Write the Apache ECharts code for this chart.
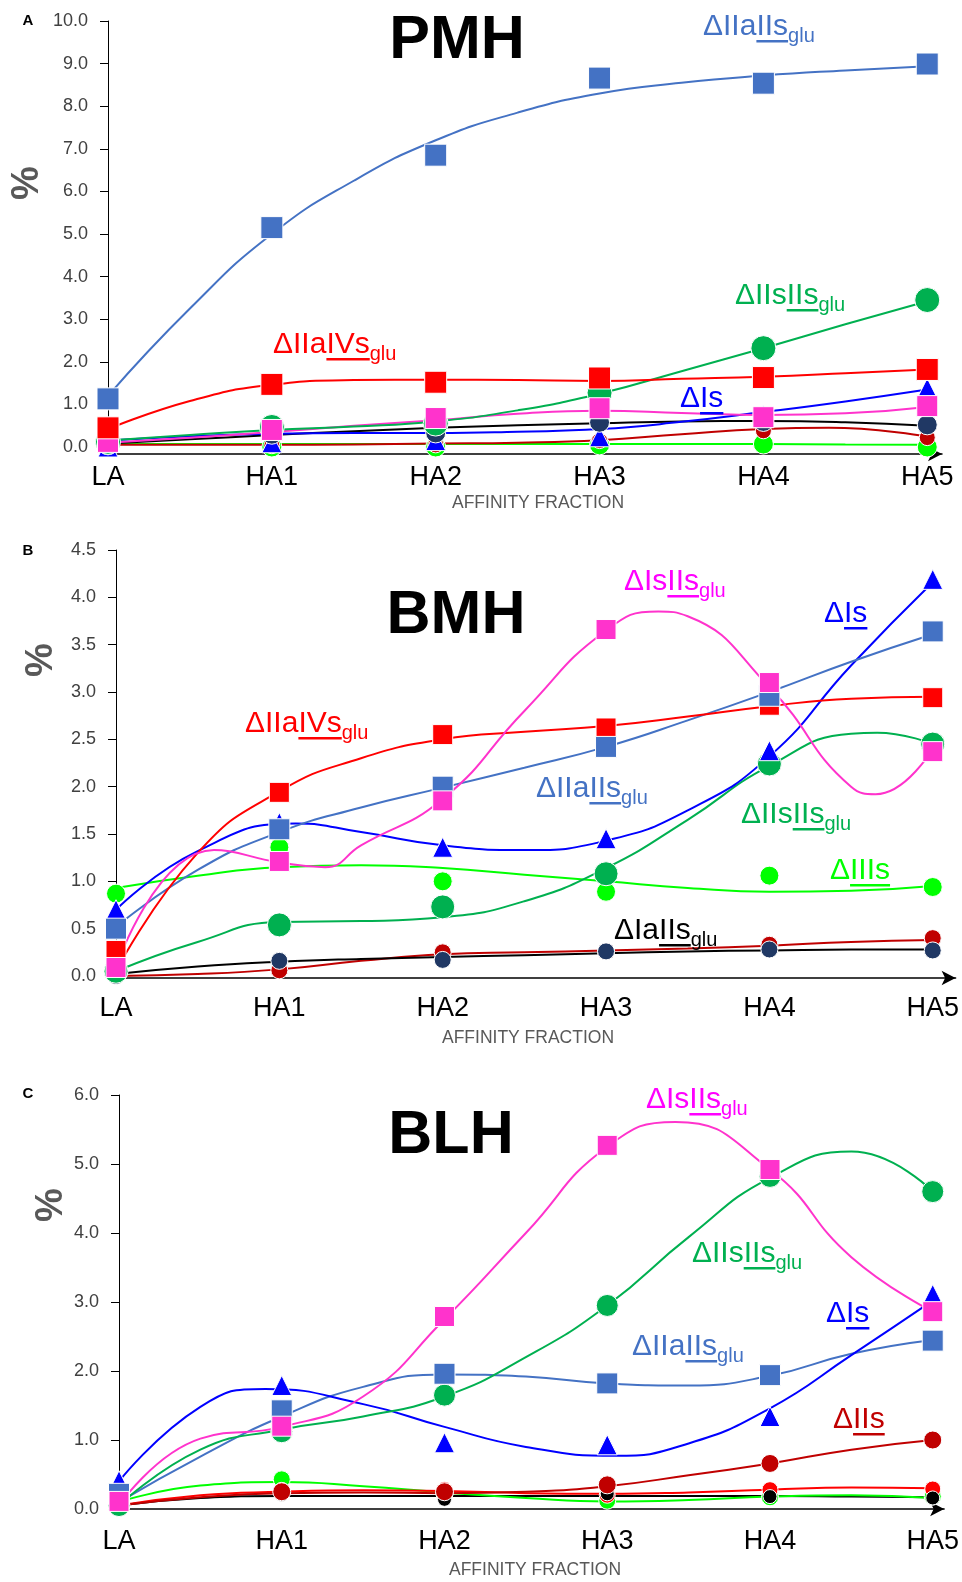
<!DOCTYPE html>
<html>
<head>
<meta charset="utf-8">
<script src="https://cdn.jsdelivr.net/npm/echarts@6/dist/echarts.min.js"></script>
<style>html,body{margin:0;padding:0;background:#fff}#c{width:962px;height:1582px}</style>
</head>
<body>
<div id="c"></div>
<script>
// ---------- DATA ----------
const categories = ['LA', 'HA1', 'HA2', 'HA3', 'HA4', 'HA5'];
const fitSteps = [0, 0.5, 1, 1.5, 2, 2.5, 3, 3.5, 4, 4.5, 5]; // positions where the fitted curves were read
const yTicksA = [0, 10, 1];
const yTicksB = [0, 4.5, 0.5];
const yTicksC = [0, 6, 1];

const A_IIaIIs_pts = [1.13, 5.15, 6.85, 8.66, 8.54, 8.99];
const A_IIaIIs_fit = [1.2, 3.25, 5.0, 6.25, 7.2, 7.85, 8.3, 8.55, 8.72, 8.84, 8.94];
const A_IIaIVs_pts = [0.45, 1.47, 1.52, 1.62, 1.63, 1.82];
const A_IIaIVs_fit = [0.42, 1.08, 1.46, 1.57, 1.58, 1.57, 1.55, 1.6, 1.65, 1.73, 1.82];
const A_IIsIIs_pts = [0.12, 0.47, 0.55, 1.27, 2.32, 3.45];
const A_IIsIIs_fit = [0.15, 0.28, 0.4, 0.48, 0.6, 0.86, 1.25, 1.78, 2.32, 2.88, 3.42];
const A_Is_pts = [0.0, 0.1, 0.15, 0.24, 0.75, 1.38];
const A_Is_fit = [0.15, 0.25, 0.31, 0.33, 0.33, 0.36, 0.42, 0.59, 0.82, 1.07, 1.35];
const A_IsIIs_pts = [0.12, 0.4, 0.68, 0.91, 0.7, 0.96];
const A_IsIIs_fit = [0.1, 0.22, 0.35, 0.5, 0.63, 0.78, 0.85, 0.8, 0.75, 0.79, 0.94];
const A_IaIIs_pts = [0.05, 0.3, 0.33, 0.58, 0.6, 0.52];
const A_IaIIs_fit = [0.08, 0.18, 0.28, 0.37, 0.45, 0.51, 0.56, 0.6, 0.61, 0.58, 0.5];
const A_IIs_pts = [0.03, 0.03, 0.05, 0.15, 0.38, 0.22];
const A_IIs_fit = [0.05, 0.05, 0.05, 0.06, 0.08, 0.1, 0.16, 0.3, 0.42, 0.44, 0.24];
const A_IIs_ext = [[4.4, 0.45]];
const A_IIIs_pts = [0.05, 0.0, 0.0, 0.05, 0.07, 0.0];
const A_IIIs_fit = [0.07, 0.07, 0.07, 0.07, 0.07, 0.07, 0.07, 0.07, 0.07, 0.06, 0.05];

// Panel B : BMH
const B_IIaIIs_pts = [0.5, 1.55, 2.0, 2.42, 2.96, 3.64];
const B_IIaIIs_fit = [0.52, 1.12, 1.52, 1.78, 1.99, 2.2, 2.42, 2.7, 3.0, 3.32, 3.61];
const B_IIaIVs_pts = [0.27, 1.94, 2.55, 2.62, 2.86, 2.94];
const B_IIaIVs_fit = [0.05, 1.3, 1.95, 2.3, 2.5, 2.58, 2.64, 2.74, 2.85, 2.93, 2.95];
const B_IsIIs_pts = [0.09, 1.21, 1.85, 3.66, 3.1, 2.37];
const B_IsIIs_fit = [0.1, 1.3, 1.2, 1.38, 1.87, 2.8, 3.65, 3.8, 3.05, 2.0, 2.4];
const B_IsIIs_ext = [[0.6, 1.33], [1.28, 1.15], [3.32, 3.85], [4.65, 1.92]];
const B_Is_pts = [0.7, 1.62, 1.36, 1.45, 2.38, 4.19];
const B_Is_fit = [0.7, 1.32, 1.6, 1.52, 1.38, 1.33, 1.43, 1.75, 2.32, 3.28, 4.16];
const B_Is_ext = [[1.1, 1.61]];
const B_IIsIIs_pts = [0.05, 0.54, 0.73, 1.08, 2.24, 2.45];
const B_IIsIIs_fit = [0.05, 0.36, 0.57, 0.58, 0.62, 0.79, 1.14, 1.65, 2.22, 2.56, 2.45];
const B_IIsIIs_ext = [[4.66, 2.57]];
const B_IIIs_pts = [0.87, 1.36, 1.0, 0.89, 1.06, 0.94];
const B_IIIs_fit = [0.93, 1.06, 1.15, 1.17, 1.14, 1.07, 1.0, 0.93, 0.89, 0.9, 0.95];
const B_IaIIs_pts = [0.0, 0.16, 0.17, 0.26, 0.28, 0.27];
const B_IaIIs_fit = [0.02, 0.1, 0.15, 0.18, 0.2, 0.22, 0.24, 0.26, 0.27, 0.28, 0.28];
const B_IIs_pts = [0.0, 0.06, 0.25, 0.26, 0.33, 0.4];
const B_IIs_fit = [0.0, 0.02, 0.07, 0.16, 0.23, 0.25, 0.27, 0.29, 0.32, 0.36, 0.38];

// Panel C : BLH
const C_IsIIs_pts = [0.11, 1.2, 2.79, 5.27, 4.92, 2.86];
const C_IsIIs_fit = [0.05, 1.02, 1.19, 1.63, 2.75, 4.0, 5.25, 5.58, 4.92, 3.65, 2.86];
const C_IsIIs_ext = [[3.42, 5.61]];
const C_IIsIIs_pts = [0.05, 1.12, 1.65, 2.95, 4.82, 4.6];
const C_IIsIIs_fit = [0.05, 0.86, 1.15, 1.34, 1.63, 2.2, 2.95, 3.94, 4.8, 5.18, 4.6];
const C_Is_pts = [0.41, 1.79, 0.96, 0.93, 1.34, 3.11];
const C_Is_fit = [0.4, 1.48, 1.73, 1.52, 1.19, 0.9, 0.78, 0.95, 1.46, 2.23, 3.02];
const C_Is_ext = [[0.9, 1.74], [3.05, 0.77]];
const C_IIaIIs_pts = [0.22, 1.43, 1.96, 1.82, 1.94, 2.44];
const C_IIaIIs_fit = [0.1, 0.76, 1.34, 1.77, 1.95, 1.92, 1.82, 1.79, 1.93, 2.25, 2.45];
const C_IIs_pts = [0.05, 0.25, 0.25, 0.35, 0.66, 1.0];
const C_IIs_fit = [0.05, 0.17, 0.23, 0.24, 0.23, 0.25, 0.33, 0.49, 0.66, 0.86, 1.0];
const C_IIaIVs_pts = [0.02, 0.27, 0.28, 0.2, 0.28, 0.29];
const C_IIaIVs_fit = [0.05, 0.2, 0.25, 0.27, 0.26, 0.23, 0.22, 0.24, 0.28, 0.31, 0.3];
const C_IIIs_pts = [0.05, 0.43, 0.22, 0.12, 0.17, 0.18];
const C_IIIs_fit = [0.1, 0.34, 0.39, 0.33, 0.24, 0.16, 0.11, 0.13, 0.18, 0.2, 0.16];
const C_IaIIs_pts = [0.05, 0.21, 0.14, 0.22, 0.18, 0.16];
const C_IaIIs_fit = [0.05, 0.16, 0.19, 0.19, 0.19, 0.19, 0.19, 0.19, 0.19, 0.18, 0.17];

// ---------- STYLE ----------
const FONT = '"Liberation Sans", Arial, sans-serif';
const COL = {
  IIaIIs: '#4472C4', IIaIVs: '#FF0000', IsIIs: '#FF33CC', Is: '#0000FF',
  IIsIIs: '#00B050', IIIs: '#00FF00', IaIIs: '#000000', IIs: '#C00000', navy: '#203864'
};

const grids = [
  { left: 108, top: 21, width: 834, height: 426 },
  { left: 116, top: 550, width: 843, height: 426 },
  { left: 119, top: 1095, width: 842, height: 414 }
];
const xMax = [5.09, 5.14, 5.07];
const xOffset = [7, 2, 0];
const xMargin = [10, 17, 19];
const yT = [yTicksA, yTicksB, yTicksC];

function fit(g, arr, color, ext) {
  let data = arr.map((v, i) => [fitSteps[i], v]);
  if (ext) {
    ext.forEach(e => {
      data = data.filter(d => Math.abs(d[0] - e[0]) > 0.12);
      data.push(e);
    });
    data.sort((a, b) => a[0] - b[0]);
  }
  return { type: 'line', xAxisIndex: g, yAxisIndex: g, data: data,
    smooth: 0.5, showSymbol: false, symbol: 'none', clip: false, z: 2,
    lineStyle: { color: color, width: 2 } };
}
function pts(g, arr, sym, size, color, z) {
  return { type: 'scatter', xAxisIndex: g, yAxisIndex: g, data: arr.map((v, i) => [i, v]),
    symbol: sym, symbolSize: size, clip: false, z: z || 3,
    itemStyle: { color: color, borderColor: '#ffffff', borderWidth: 1, opacity: 1 } };
}

const series = [
  // A
  fit(0, A_IIIs_fit, COL.IIIs), fit(0, A_IIs_fit, COL.IIs, A_IIs_ext), fit(0, A_IaIIs_fit, COL.IaIIs),
  fit(0, A_Is_fit, COL.Is), fit(0, A_IsIIs_fit, COL.IsIIs), fit(0, A_IIsIIs_fit, COL.IIsIIs),
  fit(0, A_IIaIVs_fit, COL.IIaIVs), fit(0, A_IIaIIs_fit, COL.IIaIIs),
  pts(0, A_IIIs_pts, 'circle', 20, COL.IIIs, 3), pts(0, A_IIs_pts, 'circle', 16, COL.IIs, 3),
  pts(0, A_Is_pts, 'triangle', 20, COL.Is, 4), pts(0, A_IaIIs_pts, 'circle', 20, COL.navy, 5),
  pts(0, A_IIsIIs_pts, 'circle', 25, COL.IIsIIs, 5), pts(0, A_IsIIs_pts, 'rect', 21, COL.IsIIs, 6),
  pts(0, A_IIaIVs_pts, 'rect', 22, COL.IIaIVs, 6), pts(0, A_IIaIIs_pts, 'rect', 22, COL.IIaIIs, 6),
  // B
  fit(1, B_IIs_fit, COL.IIs), fit(1, B_IaIIs_fit, COL.IaIIs), fit(1, B_IIIs_fit, COL.IIIs),
  fit(1, B_IIsIIs_fit, COL.IIsIIs, B_IIsIIs_ext), fit(1, B_Is_fit, COL.Is, B_Is_ext), fit(1, B_IIaIIs_fit, COL.IIaIIs),
  fit(1, B_IIaIVs_fit, COL.IIaIVs), fit(1, B_IsIIs_fit, COL.IsIIs, B_IsIIs_ext),
  pts(1, B_IIs_pts, 'circle', 17, COL.IIs, 3), pts(1, B_IaIIs_pts, 'circle', 17, COL.navy, 3),
  pts(1, B_IIIs_pts, 'circle', 19, COL.IIIs, 3), pts(1, B_IIsIIs_pts, 'circle', 24, COL.IIsIIs, 4),
  pts(1, B_Is_pts, 'triangle', 20, COL.Is, 4), pts(1, B_IIaIVs_pts, 'rect', 20, COL.IIaIVs, 5),
  pts(1, B_IIaIIs_pts, 'rect', 21, COL.IIaIIs, 6), pts(1, B_IsIIs_pts, 'rect', 20, COL.IsIIs, 6),
  // C
  fit(2, C_IaIIs_fit, COL.IaIIs), fit(2, C_IIIs_fit, COL.IIIs), fit(2, C_IIaIVs_fit, COL.IIaIVs),
  fit(2, C_IIs_fit, COL.IIs), fit(2, C_IIaIIs_fit, COL.IIaIIs), fit(2, C_Is_fit, COL.Is, C_Is_ext),
  fit(2, C_IIsIIs_fit, COL.IIsIIs), fit(2, C_IsIIs_fit, COL.IsIIs, C_IsIIs_ext),
  pts(2, C_IIIs_pts, 'circle', 17, COL.IIIs, 3), pts(2, C_IIaIVs_pts, 'circle', 16, COL.IIaIVs, 3),
  pts(2, C_IaIIs_pts, 'circle', 14, COL.IaIIs, 4), pts(2, C_IIs_pts, 'circle', 18, COL.IIs, 4),
  pts(2, C_IIsIIs_pts, 'circle', 22, COL.IIsIIs, 4), pts(2, C_Is_pts, 'triangle', 20, COL.Is, 5),
  pts(2, C_IIaIIs_pts, 'rect', 21, COL.IIaIIs, 5), pts(2, C_IsIIs_pts, 'rect', 20, COL.IsIIs, 6)
];

const xAxis = grids.map((g, i) => ({
  gridIndex: i, type: 'value', min: 0, max: xMax[i], interval: 1, offset: xOffset[i],
  axisLine: { show: true, onZero: false, symbol: ['none', 'arrow'], symbolSize: [11, 14],
    lineStyle: { color: '#000', width: 1.5 } },
  axisTick: { show: false }, splitLine: { show: false },
  axisLabel: { show: true, margin: xMargin[i], color: '#000', fontSize: 27, fontFamily: FONT,
    showMaxLabel: false,
    formatter: v => (Math.abs(v - Math.round(v)) < 1e-6 && v <= 5.0001) ? categories[Math.round(v)] : '' }
}));
const yAxis = grids.map((g, i) => ({
  gridIndex: i, type: 'value', min: yT[i][0], max: yT[i][1], interval: yT[i][2],
  axisLine: { show: true, lineStyle: { color: '#000', width: 1 } },
  axisTick: { show: true, inside: false, length: 8, lineStyle: { color: '#000' } },
  splitLine: { show: false },
  axisLabel: { margin: 20, color: '#404040', fontSize: 18, fontFamily: FONT, formatter: v => v.toFixed(1) }
}));

// ---------- annotation text ----------
const mctx = document.createElement('canvas').getContext('2d');
function tw(t, size, weight) { mctx.font = (weight || 'normal') + ' ' + size + 'px ' + FONT; return mctx.measureText(t).width; }
const graphic = [];
function txt(t, x, y, size, color, opts) {
  opts = opts || {};
  graphic.push({ type: 'text', x: x, y: y, rotation: opts.rot || 0, z: 100,
    style: { text: t, fill: color, font: (opts.weight || 'normal') + ' ' + size + 'px ' + FONT,
      align: opts.align || 'left', verticalAlign: 'middle' } });
}
// label: parts = [[text, 'n'|'u'|'s'], ...]; x = left, b = baseline
function seriesLabel(parts, x, b, color) {
  const MS = 30, SS = 20;
  let cx = x;
  parts.forEach(p => {
    const s = p[1] === 's' ? SS : MS;
    const base = p[1] === 's' ? b + 7 : b;
    const w = tw(p[0], s);
    txt(p[0], cx, base - 0.31 * s, s, color);
    if (p[1] === 'u') {
      graphic.push({ type: 'rect', z: 100, shape: { x: cx, y: base + 4, width: w, height: 2.5 }, style: { fill: color } });
    }
    cx += w;
  });
}

// titles, panel letters, axis names
[['PMH', 457, 41], ['BMH', 456, 616], ['BLH', 451, 1136]].forEach(t => {
  graphic.push({ type: 'text', x: t[1], y: t[2], z: 100,
    style: { text: t[0], fill: '#000', font: 'bold 61px ' + FONT, align: 'center', verticalAlign: 'middle' } });
});
[['A', 28, 21], ['B', 28, 551], ['C', 28, 1094]].forEach(t => txt(t[0], t[1], t[2], 15, '#000', { weight: 'bold', align: 'center' }));
[[28, 183], [42, 660], [52, 1205]].forEach(p => txt('%', p[0], p[1], 38, '#595959', { weight: 'bold', align: 'center', rot: Math.PI / 2 }));
[[538, 503], [528, 1038], [535, 1570]].forEach(p => txt('AFFINITY FRACTION', p[0], p[1], 17.5, '#595959', { align: 'center' }));

// series labels
seriesLabel([['ΔIIa', 'n'], ['IIs', 'u'], ['glu', 's']], 703, 36, COL.IIaIIs);
seriesLabel([['ΔIIs', 'n'], ['IIs', 'u'], ['glu', 's']], 735, 305, COL.IIsIIs);
seriesLabel([['ΔIIa', 'n'], ['IVs', 'u'], ['glu', 's']], 273, 354, COL.IIaIVs);
seriesLabel([['Δ', 'n'], ['Is', 'u']], 680, 408, COL.Is);

seriesLabel([['ΔIs', 'n'], ['IIs', 'u'], ['glu', 's']], 624, 591, '#FF00FF');
seriesLabel([['Δ', 'n'], ['Is', 'u']], 824, 623, COL.Is);
seriesLabel([['ΔIIa', 'n'], ['IVs', 'u'], ['glu', 's']], 245, 733, COL.IIaIVs);
seriesLabel([['ΔIIa', 'n'], ['IIs', 'u'], ['glu', 's']], 536, 798, COL.IIaIIs);
seriesLabel([['ΔIIs', 'n'], ['IIs', 'u'], ['glu', 's']], 741, 824, COL.IIsIIs);
seriesLabel([['Δ', 'n'], ['IIIs', 'u']], 830, 880, COL.IIIs);
seriesLabel([['ΔIa', 'n'], ['IIs', 'u'], ['glu', 's']], 614, 940, '#000000');

seriesLabel([['ΔIs', 'n'], ['IIs', 'u'], ['glu', 's']], 646, 1109, '#FF00FF');
seriesLabel([['ΔIIs', 'n'], ['IIs', 'u'], ['glu', 's']], 692, 1263, COL.IIsIIs);
seriesLabel([['Δ', 'n'], ['Is', 'u']], 826, 1323, COL.Is);
seriesLabel([['ΔIIa', 'n'], ['IIs', 'u'], ['glu', 's']], 632, 1356, COL.IIaIIs);
seriesLabel([['Δ', 'n'], ['IIs', 'u']], 833, 1429, COL.IIs);

const chart = echarts.init(document.getElementById('c'), null, { renderer: 'canvas', width: 962, height: 1582 });
chart.setOption({
  animation: false,
  backgroundColor: '#ffffff',
  grid: grids,
  xAxis: xAxis,
  yAxis: yAxis,
  series: series,
  graphic: graphic
});
</script>
</body>
</html>
